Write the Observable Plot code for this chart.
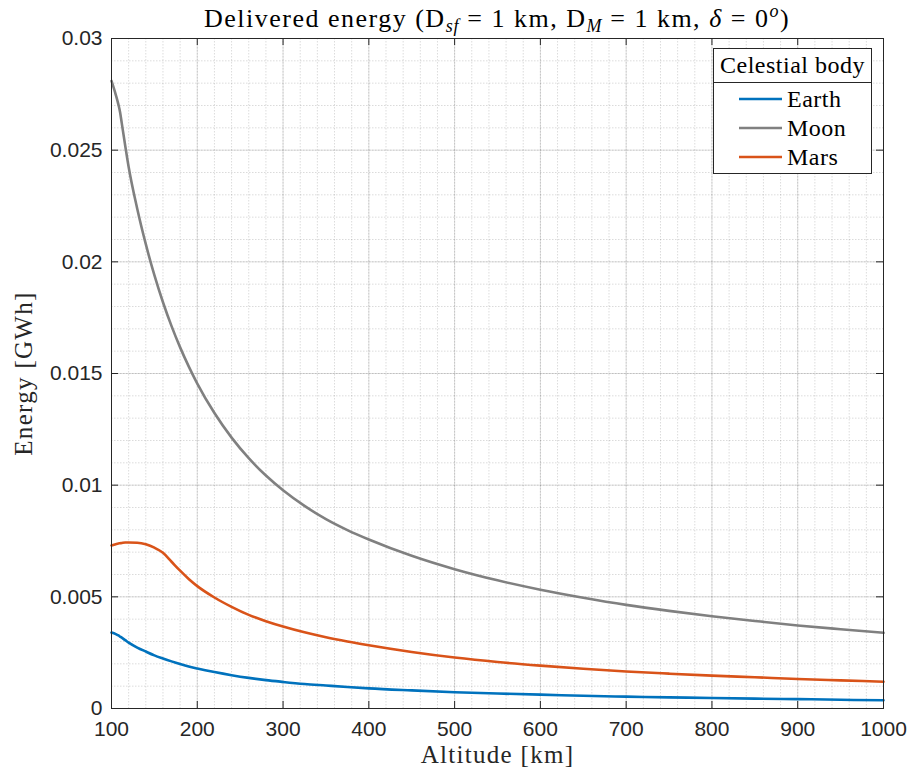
<!DOCTYPE html>
<html>
<head>
<meta charset="utf-8">
<script src="https://cdn.jsdelivr.net/npm/d3@7"></script>
<script src="https://cdn.jsdelivr.net/npm/@observablehq/plot@0.6"></script>
<style>
  body { margin: 0; background: #fff; }
  #wrap { position: relative; width: 912px; height: 776px; }
  #title {
    position: absolute; left: 111px; width: 772px; top: 6px; z-index: 2;
    text-align: center; white-space: nowrap;
    font-family: "Liberation Serif", "Times New Roman", serif;
    font-size: 26px; line-height: 26px; letter-spacing: 1.5px; color: #000;
  }
  #title sub { font-size: 18px; vertical-align: -5px; line-height: 0; letter-spacing: 0.8px; }
  #title sup { font-size: 18px; vertical-align: 10px; line-height: 0; }
</style>
</head>
<body>
<div id="wrap">
  <div id="title">Delivered energy (D<sub><i>sf</i></sub> = 1 km, D<sub><i>M</i></sub> = 1 km, <i>δ</i> = 0<sup><i>o</i></sup>)</div>
</div>
<script>
// ---- data ----
const altitudes = [100,105,108,110,112,116,120,130,140,150,160,170,180,190,200,220,240,260,280,300,325,350,375,400,450,500,550,600,650,700,750,800,850,900,950,1000];
const earth = [0.00340,0.00333,0.00327,0.00322,0.00317,0.00306,0.00295,0.00273,0.00255,0.00238,0.00224,0.00211,0.00199,0.00188,0.00179,0.00163,0.00149,0.00137,0.00127,0.00119,0.00110,0.00103,0.00096,0.00090,0.00081,0.00073,0.00067,0.00062,0.00057,0.00053,0.00050,0.00047,0.00044,0.00042,0.00039,0.00037];
const moon = [0.0281,0.02748,0.02705,0.0267,0.0262,0.0252,0.02425,0.02238,0.02079,0.0194,0.01819,0.01712,0.01617,0.01532,0.01455,0.01323,0.01213,0.01121,0.01043,0.00977,0.00907,0.00848,0.00799,0.00757,0.00684,0.00624,0.00574,0.00532,0.00496,0.00464,0.00437,0.00413,0.00392,0.00372,0.00355,0.00339];
const mars = [0.00730,0.00736,0.00739,0.00740,0.00741,0.00743,0.00743,0.00742,0.00735,0.00720,0.00697,0.00657,0.00617,0.00580,0.00548,0.00497,0.00455,0.00419,0.00391,0.00367,0.00341,0.00319,0.00300,0.00283,0.00253,0.00228,0.00208,0.00192,0.00178,0.00166,0.00156,0.00147,0.00140,0.00132,0.00126,0.00120];
const seriesNames = ["Earth", "Moon", "Mars"];
const seriesColors = ["#0072BD", "#808080", "#D95319"];
const xTicks = [100,200,300,400,500,600,700,800,900,1000];
const yTicks = [0,0.005,0.01,0.015,0.02,0.025,0.03];
const xMinor = d3.range(100, 1001, 20);
const yMinor = d3.range(0, 31, 1).map(v => v / 1000);
const legendTitle = "Celestial body";
const xLabel = "Altitude [km]";
const yLabel = "Energy [GWh]";

const seriesValues = [earth, moon, mars];
const rows = [];
seriesNames.forEach((name, s) => {
  altitudes.forEach((a, i) => rows.push({alt: a, energy: seriesValues[s][i], body: name}));
});

const sans = "'Liberation Sans', Arial, Helvetica, sans-serif";
const serif = "'Liberation Serif', 'Times New Roman', serif";
const W = 912, H = 776, mL = 111, mR = 29, mT = 38, mB = 68;
const fw = W - mL - mR, fh = H - mT - mB, tick = 7;

const fmtY = d => d === 0 ? "0" : String(+d.toFixed(3));
const fmtX = d => String(d);

const chart = Plot.plot({
  width: W, height: H,
  marginLeft: mL, marginRight: mR, marginTop: mT, marginBottom: mB,
  style: {background: "#fff", color: "#262626", fontFamily: sans},
  x: {domain: [100, 1000]},
  y: {domain: [0, 0.03]},
  color: {domain: seriesNames, range: seriesColors},
  marks: [
    Plot.gridX(xMinor, {stroke: "#000", strokeOpacity: 0.14, strokeDasharray: "1.5,1.5"}),
    Plot.gridY(yMinor, {stroke: "#000", strokeOpacity: 0.14, strokeDasharray: "1.5,1.5"}),
    Plot.gridX(xTicks, {stroke: "#000", strokeOpacity: 0.12}),
    Plot.gridY(yTicks, {stroke: "#000", strokeOpacity: 0.12}),
    Plot.line(rows, {x: "alt", y: "energy", stroke: "body", strokeWidth: 2.6, curve: "monotone-x"}),
    Plot.frame({stroke: "#262626", strokeWidth: 1}),
    Plot.tickX(xTicks, {x: d => d, insetTop: fh - tick, stroke: "#262626"}),
    Plot.tickX(xTicks, {x: d => d, insetBottom: fh - tick, stroke: "#262626"}),
    Plot.tickY(yTicks, {y: d => d, insetRight: fw - tick, stroke: "#262626"}),
    Plot.tickY(yTicks, {y: d => d, insetLeft: fw - tick, stroke: "#262626"}),
    Plot.axisX(xTicks, {tickSize: 0, tickPadding: 13, fontSize: 21, tickFormat: fmtX, label: null}),
    Plot.axisY(yTicks, {tickSize: 0, tickPadding: 9, fontSize: 21, tickFormat: fmtY, label: null}),
    Plot.text([xLabel], {text: d => d, frameAnchor: "bottom", textAnchor: "middle", dy: 54, fontFamily: serif, fontSize: 25, fill: "#262626"}),
    Plot.text([yLabel], {text: d => d, frameAnchor: "left", textAnchor: "middle", dx: -88, rotate: -90, fontFamily: serif, fontSize: 25, fill: "#262626"})
  ]
});

// legend box (MATLAB style, upper right)
const svg = d3.select(chart);
svg.selectAll("text").filter(function () { return this.textContent === xLabel || this.textContent === yLabel; })
  .attr("letter-spacing", "1.3px");
const lg = svg.append("g").attr("text-anchor", "start");
const bx = 713.5, by = 48.5, bw = 158, bh = 125;
lg.append("rect").attr("x", bx).attr("y", by).attr("width", bw).attr("height", bh)
  .attr("fill", "#fff").attr("stroke", "#262626").attr("stroke-width", 1);
lg.append("line").attr("x1", bx).attr("x2", bx + bw).attr("y1", 82.5).attr("y2", 82.5)
  .attr("stroke", "#262626").attr("stroke-width", 1);
lg.append("text").attr("x", bx + bw / 2).attr("y", 73).attr("text-anchor", "middle")
  .attr("font-family", serif).attr("font-size", 24).attr("letter-spacing", "0.5px")
  .attr("fill", "#000").text(legendTitle);
seriesNames.forEach((name, i) => {
  const yy = 99 + i * 29;
  lg.append("line").attr("x1", 739).attr("x2", 782).attr("y1", yy).attr("y2", yy)
    .attr("stroke", seriesColors[i]).attr("stroke-width", 2.6);
  lg.append("text").attr("x", 787).attr("y", yy + 8).attr("text-anchor", "start")
    .attr("font-family", serif).attr("font-size", 24).attr("letter-spacing", "0.5px")
    .attr("fill", "#000").text(name);
});

document.getElementById("wrap").appendChild(chart);
chart.style.position = "absolute";
chart.style.left = "0";
chart.style.top = "0";
chart.style.zIndex = "1";
</script>
</body>
</html>
